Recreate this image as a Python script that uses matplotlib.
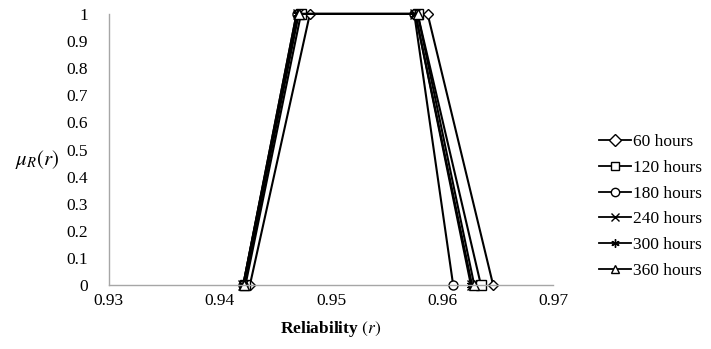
import matplotlib
matplotlib.use('Agg')
import matplotlib.pyplot as plt

plt.rcParams['font.family'] = ['Liberation Serif', 'DejaVu Serif']
plt.rcParams['mathtext.fontset'] = 'stix'

# membership function points: (r, mu) for each operating time
labels = ['60 hours', '120 hours', '180 hours', '240 hours', '300 hours', '360 hours']
markers = ['D', 's', 'o', 'x', (6, 2, 0), '^']
mu = [0, 1, 1, 0]
r_60 = [0.9427, 0.9481, 0.9587, 0.9646]
r_120 = [0.9423, 0.9473, 0.9578, 0.9635]
r_180 = [0.9421, 0.9469, 0.9575, 0.9610]
r_240 = [0.9421, 0.9470, 0.9576, 0.9627]
r_300 = [0.9421, 0.9469, 0.9576, 0.9626]
r_360 = [0.9422, 0.9471, 0.9578, 0.9629]
series = [r_60, r_120, r_180, r_240, r_300, r_360]

x_ticks = [0.93, 0.94, 0.95, 0.96, 0.97]
y_ticks = [0, 0.1, 0.2, 0.3, 0.4, 0.5, 0.6, 0.7, 0.8, 0.9, 1]


def main():
  fig = plt.figure(figsize=(7.11, 3.49), dpi=100)
  ax = fig.add_axes([0.153, 0.183, 0.625, 0.777])

  for rs, lab, m in zip(series, labels, markers):
    ms = 5 if m == 'D' else 6.5
    ax.plot(rs, mu, color='black', linewidth=1.5, marker=m, markersize=ms,
            markerfacecolor='white', markeredgecolor='black', markeredgewidth=1,
            label=lab, clip_on=False)

  ax.set_xlim(0.93, 0.97)
  ax.set_ylim(0, 1)
  ax.set_xticks(x_ticks)
  ax.set_xticklabels([f'{v:g}' for v in x_ticks])
  ax.set_yticks(y_ticks)
  ax.set_yticklabels([f'{v:g}' for v in y_ticks])
  ax.tick_params(length=0, labelsize=12.5, pad=6)
  ax.tick_params(axis='y', pad=15)

  for side in ['top', 'right']:
    ax.spines[side].set_visible(False)
  for side in ['left', 'bottom']:
    ax.spines[side].set_color('#a6a6a6')
    ax.spines[side].set_linewidth(1)

  ax.set_xlabel(r'Reliability $(r)$', fontsize=12.5, fontweight='bold', labelpad=7)
  fig.text(0.052, 0.544, r'$\mu_R(r)$', fontsize=15, ha='center', va='center')

  leg = ax.legend(loc='center left', bbox_to_anchor=(1.088, 0.29), frameon=False,
                  fontsize=12.5, handlelength=1.85, handletextpad=0.1,
                  labelspacing=0.55, borderaxespad=0)
  for h in leg.legend_handles:
    h.set_markersize(6)
    h.set_linewidth(1.3)

  plt.savefig('out.png', dpi=100)


if __name__ == '__main__':
  main()
